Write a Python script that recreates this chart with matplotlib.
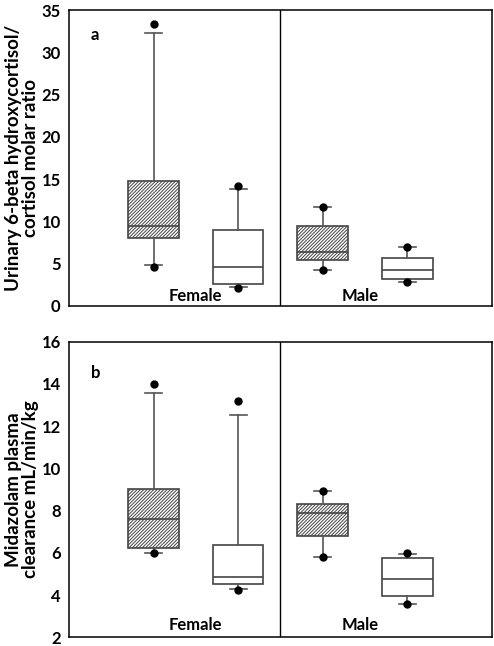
import matplotlib.pyplot as plt

plt.rcParams['font.family'] = ['Lato', 'DejaVu Sans']
plt.rcParams['hatch.linewidth'] = 0.7
plt.rcParams['hatch.color'] = '#333333'

# Box order: Female treated, Female control, Male treated, Male control
hatched = [True, False, True, False]

# panel a: urinary 6-beta hydroxycortisol / cortisol ratio
a_q1 = [8.0, 2.6, 5.35, 3.2]
a_med = [9.4, 4.6, 6.3, 4.2]
a_q3 = [14.8, 8.9, 9.4, 5.65]
a_lo = [4.8, 2.2, 4.2, 2.8]
a_hi = [32.3, 13.8, 11.7, 6.9]
a_fliers = [[4.6, 33.4], [2.1, 14.2], [4.2, 11.7], [2.8, 6.9]]

# panel b: midazolam plasma clearance
b_q1 = [6.23, 4.53, 6.82, 3.94]
b_med = [7.59, 4.87, 7.9, 4.76]
b_q3 = [9.01, 6.36, 8.3, 5.77]
b_lo = [6.0, 4.3, 5.8, 3.56]
b_hi = [13.58, 12.54, 8.92, 5.95]
b_fliers = [[6.0, 14.0], [4.24, 13.2], [5.8, 8.92], [3.56, 5.98]]

groups = ['Female', 'Male']


def make_stats(q1, med, q3, lo, hi, fl):
    stats = []
    for i in range(len(q1)):
        stats.append(dict(q1=q1[i], med=med[i], q3=q3[i],
                          whislo=lo[i], whishi=hi[i], fliers=fl[i]))
    return stats


def draw_panel(ax, stats, ylim, yticks, letter, letter_y, label_y, ylabel):
    bp = ax.bxp(stats, positions=[1, 2, 3, 4], widths=0.6, patch_artist=True,
                capwidths=0.2,
                boxprops=dict(edgecolor='#444444', linewidth=1.2),
                medianprops=dict(color='#444444', linewidth=1.2),
                whiskerprops=dict(color='#555555', linewidth=1.2),
                capprops=dict(color='#555555', linewidth=1.2),
                flierprops=dict(marker='o', markerfacecolor='black',
                                markeredgecolor='black', markersize=5))
    for box, h in zip(bp['boxes'], hatched):
        box.set_facecolor('white')
        if h:
            box.set_hatch('//////////')
    ax.axvline(2.5, color='black', linewidth=1)
    ax.set_xlim(0, 5)
    ax.set_ylim(*ylim)
    ax.set_yticks(yticks)
    ax.set_xticks([])
    ax.tick_params(axis='y', length=0, pad=6, labelsize=12)
    for t in ax.get_yticklabels():
        t.set_fontweight('bold')
    for s in ax.spines.values():
        s.set_linewidth(1.1)
    ax.text(0.31, letter_y, letter, fontsize=12, fontweight='bold',
            ha='center', va='center')
    ax.text(1.5, label_y, groups[0], fontsize=12, fontweight='bold',
            ha='center', va='center')
    ax.text(3.45, label_y, groups[1], fontsize=12, fontweight='bold',
            ha='center', va='center')
    ax.set_ylabel(ylabel, fontsize=13.5, fontweight='bold', linespacing=1.05)
    ax.yaxis.set_label_coords(-0.07, 0.5)


fig = plt.figure(figsize=(4.94, 6.46), dpi=100)
ax1 = fig.add_axes([0.1397, 0.527, 0.8556, 0.457])
ax2 = fig.add_axes([0.1397, 0.0135, 0.8556, 0.4575])

draw_panel(ax1, make_stats(a_q1, a_med, a_q3, a_lo, a_hi, a_fliers),
           (0, 35), [0, 5, 10, 15, 20, 25, 30, 35], 'a', 32.1, 1.15,
           'Urinary 6-beta hydroxycortisol/\ncortisol molar ratio')
draw_panel(ax2, make_stats(b_q1, b_med, b_q3, b_lo, b_hi, b_fliers),
           (2, 16), [2, 4, 6, 8, 10, 12, 14, 16], 'b', 14.5, 2.6,
           'Midazolam plasma\nclearance mL/min/kg')

fig.savefig('out.png', dpi=100)
